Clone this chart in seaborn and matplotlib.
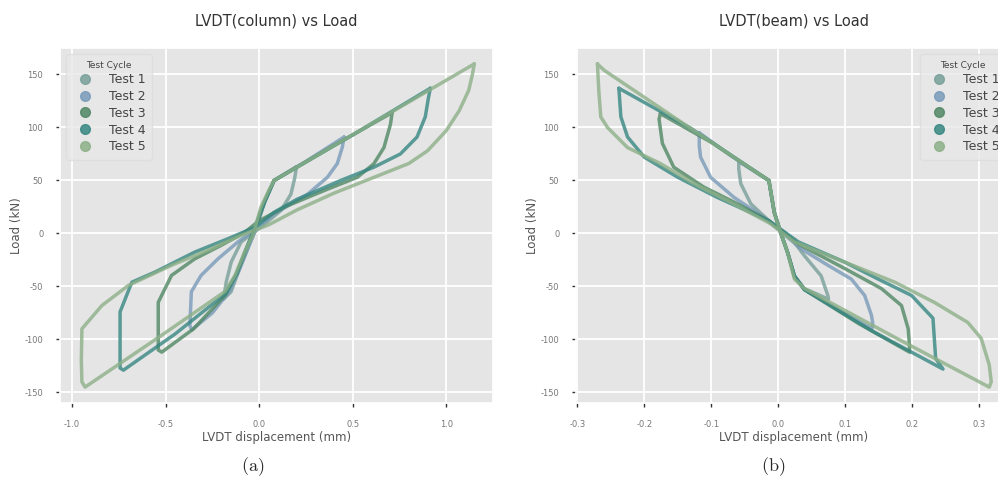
import numpy as np
import pandas as pd
import seaborn as sns
import matplotlib.pyplot as plt
from matplotlib.lines import Line2D

# Hysteresis loop vertices (displacement mm, load kN)
tests = ["Test 1", "Test 2", "Test 3", "Test 4", "Test 5"]
colors = ["#78a09a", "#789bb8", "#508764", "#378782", "#8cb087"]

# column LVDT
col_t1_x = [0.2, 0.19, 0.17, 0.117, 0.01, -0.096, -0.149, -0.176, -0.19, -0.15, -0.11, -0.06, -0.02, 0.03, 0.08, 0.2]
col_t1_y = [63, 52, 37, 21.7, 6, -8, -27, -46, -62, -55, -36, -14, 3, 30, 50, 63]
col_t2_x = [0.454, 0.445, 0.418, 0.365, 0.259, 0.081, -0.05, -0.113, -0.22, -0.31, -0.362, -0.37, -0.36,
            -0.25, -0.16, -0.11, -0.06, -0.02, 0.03, 0.08, 0.25, 0.454]
col_t2_y = [91, 81.5, 66, 53, 37, 18.5, 0, -8, -24, -39.6, -55, -87, -91,
            -75, -55, -36, -14, 3, 30, 50, 68, 91]
col_t3_x = [0.711, 0.702, 0.667, 0.613, 0.525, 0.348, 0.15, 0.0, -0.078, -0.2, -0.344, -0.468, -0.539, -0.539,
            -0.52, -0.35, -0.18, -0.12, -0.07, -0.03, 0.03, 0.08, 0.4, 0.711]
col_t3_y = [114, 103, 81, 65.7, 53, 40.5, 26, 12, 1, -11, -24, -39.6, -65, -110,
            -112, -90, -58, -38, -15, 2, 30, 50, 83, 114]
col_t4_x = [0.915, 0.905, 0.888, 0.844, 0.755, 0.613, 0.436, 0.2, 0.08, -0.02, -0.167, -0.344, -0.557, -0.68,
            -0.743, -0.743, -0.725, -0.45, -0.18, -0.12, -0.07, -0.03, 0.03, 0.08, 0.5, 0.915]
col_t4_y = [137, 128, 110, 91, 75, 62.5, 50, 32, 20, 6, -5, -17.6, -36.5, -46,
            -74, -127, -129, -95, -57, -38, -15, 2, 30, 50, 93, 137]
col_t5_x = [1.15, 1.14, 1.12, 1.07, 1.0, 0.9, 0.8, 0.6, 0.4, 0.2, 0.05, -0.1, -0.255, -0.468, -0.698, -0.84,
            -0.947, -0.95, -0.947, -0.93, -0.52, -0.184, -0.13, -0.078, -0.03, 0.01, 0.05, 0.08, 0.45, 0.8, 1.15]
col_t5_y = [160, 150, 135, 116, 97, 78, 66, 52, 38, 22, 8, -2, -14.5, -30, -49, -68,
            -90, -120, -140, -145, -96, -55, -40, -18, 0, 25, 40, 50, 88, 124, 160]

# beam LVDT
beam_t1_x = [-0.059, -0.059, -0.056, -0.041, -0.014, 0.02, 0.039, 0.064, 0.074, 0.075,
             0.039, 0.024, 0.014, 0.004, -0.006, -0.014, -0.059]
beam_t1_y = [68, 61, 47, 28, 12, -5, -21, -40, -58.5, -62, -52, -40, -18, 0, 20, 50, 68]
beam_t2_x = [-0.118, -0.118, -0.116, -0.101, -0.066, -0.021, 0.034, 0.074, 0.109, 0.129, 0.139, 0.141, 0.14,
             0.09, 0.039, 0.024, 0.014, 0.004, -0.006, -0.014, -0.07, -0.118]
beam_t2_y = [95, 83, 72, 53, 34, 15, -14.4, -30, -43, -58.5, -77, -84, -90,
             -72, -53, -40, -18, 0, 20, 50, 73, 95]
beam_t3_x = [-0.176, -0.178, -0.173, -0.156, -0.111, -0.061, -0.014, 0.03, 0.099, 0.154, 0.184, 0.194, 0.196, 0.196,
             0.12, 0.039, 0.024, 0.014, 0.004, -0.006, -0.014, -0.1, -0.176]
beam_t3_y = [113, 108, 85, 62.5, 43.7, 28, 12, -10, -33, -52, -68, -90, -106, -112,
             -85, -53, -40, -18, 0, 20, 50, 86, 113]
beam_t4_x = [-0.238, -0.235, -0.225, -0.2, -0.15, -0.091, -0.014, 0.03, 0.099, 0.149, 0.199, 0.231, 0.235, 0.246,
             0.14, 0.039, 0.024, 0.014, 0.004, -0.006, -0.014, -0.13, -0.238]
beam_t4_y = [137, 110, 91, 72, 53, 34, 12, -8, -27, -43, -58.5, -80, -118, -128,
             -92, -53, -40, -18, 0, 20, 50, 99, 137]
beam_t5_x = [-0.27, -0.268, -0.265, -0.255, -0.225, -0.176, -0.126, -0.076, -0.011, 0.024, 0.099, 0.174, 0.233,
             0.283, 0.303, 0.315, 0.318, 0.315, 0.174, 0.039, 0.024, 0.014, 0.004, -0.006, -0.014, -0.14, -0.26, -0.27]
beam_t5_y = [160, 135, 110, 100, 81, 66, 47, 31, 9, -8, -27, -46, -65,
             -84, -99, -124, -140, -145, -98, -52, -43, -18, 0, 20, 50, 103, 154, 160]

col_x = [col_t1_x, col_t2_x, col_t3_x, col_t4_x, col_t5_x]
col_y = [col_t1_y, col_t2_y, col_t3_y, col_t4_y, col_t5_y]
beam_x = [beam_t1_x, beam_t2_x, beam_t3_x, beam_t4_x, beam_t5_x]
beam_y = [beam_t1_y, beam_t2_y, beam_t3_y, beam_t4_y, beam_t5_y]


def to_frame(xs, ys):
    parts = []
    for name, x, y in zip(tests, xs, ys):
        parts.append(pd.DataFrame({"disp": x, "load": y, "Test Cycle": name}))
    return pd.concat(parts, ignore_index=True)


sns.set_theme(style="darkgrid", rc={
    "axes.facecolor": "#E5E5E5",
    "grid.color": "white",
    "grid.linewidth": 1.3,
    "xtick.bottom": True,
    "ytick.left": True,
    "xtick.color": "#333333",
    "ytick.color": "#333333",
    "xtick.major.size": 3,
    "ytick.major.size": 3,
    "xtick.major.width": 1,
    "ytick.major.width": 1,
})
plt.rcParams["mathtext.fontset"] = "cm"
plt.rcParams["axes.unicode_minus"] = False

fig = plt.figure(figsize=(9.98, 4.79), dpi=100)
ax1 = fig.add_axes([60 / 998, 76 / 479, 433 / 998, 355 / 479])
ax2 = fig.add_axes([576 / 998, 76 / 479, 436 / 998, 355 / 479])
palette = dict(zip(tests, colors))

panels = [
    (ax1, col_x, col_y, "LVDT(column) vs Load", (-1.064, 1.25), [-1.0, -0.5, 0.0, 0.5, 1.0], "upper left"),
    (ax2, beam_x, beam_y, "LVDT(beam) vs Load", (-0.302, 0.349), [-0.3, -0.2, -0.1, 0.0, 0.1, 0.2, 0.3], "upper right"),
]
for ax, xs, ys, title, xlim, xticks, loc in panels:
    df = to_frame(xs, ys)
    sns.lineplot(data=df, x="disp", y="load", hue="Test Cycle", palette=palette, sort=False,
                 estimator=None, linewidth=2.5, alpha=0.8, ax=ax, legend=False)
    ax.set_xlim(*xlim)
    ax.set_ylim(-160, 175)
    ax.set_xticks(xticks)
    ax.set_yticks([-150, -100, -50, 0, 50, 100, 150])
    ax.tick_params(labelsize=6, labelcolor="#777777", pad=9)
    ax.set_title(title, fontsize=10.5, color="#333333", pad=16)
    ax.set_xlabel("LVDT displacement (mm)", fontsize=8.5, color="#555555", labelpad=2)
    ax.set_ylabel("Load (kN)", fontsize=8.5, color="#555555", labelpad=1)
    handles = [Line2D([], [], marker="o", linestyle="", markersize=7, color=c, alpha=0.85) for c in colors]
    leg = ax.legend(handles, tests, title="Test Cycle", loc=loc, fontsize=9, title_fontsize=6.5,
                    frameon=True, handletextpad=0.9, labelspacing=0.3, borderpad=0.5)
    leg.get_frame().set_facecolor("#E8E8E8")
    leg.get_frame().set_edgecolor("#DDDDDD")
    plt.setp(leg.get_texts(), color="#444444")
    leg.get_title().set_color("#444444")

fig.text(253 / 998, 1 - 467 / 479, r"$\mathrm{(a)}$", ha="center", va="center", fontsize=13)
fig.text(773 / 998, 1 - 467 / 479, r"$\mathrm{(b)}$", ha="center", va="center", fontsize=13)

fig.savefig("out.png", dpi=100, facecolor="white")
